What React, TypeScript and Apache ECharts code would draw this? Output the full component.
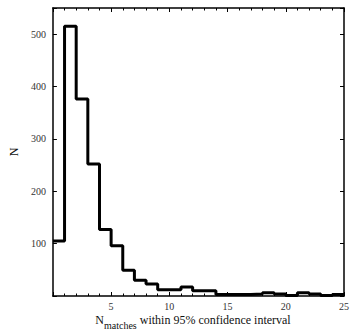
import React, { useEffect, useRef } from "react";
import * as echarts from "echarts";

const binStarts = [0, 1, 2, 3, 4, 5, 6, 7, 8, 9, 10, 11, 12, 13, 14, 15, 16, 17, 18, 19, 20, 21, 22, 23, 24, 25];
const counts = [105, 515, 376, 252, 127, 96, 49, 30, 23, 12, 12, 17, 10, 10, 3, 3, 3, 4, 6, 4, 1, 6, 4, 1, 3, 3];
const xTicks = [5, 10, 15, 20, 25];
const yTicks = [100, 200, 300, 400, 500];

const FONT = "'Liberation Serif', 'DejaVu Serif', serif";

export default function App() {
  const ref = useRef<HTMLDivElement>(null);
  useEffect(() => {
    document.body.style.margin = "0";
    if (!ref.current) return;
    const chart = echarts.init(ref.current, undefined, { renderer: "svg" });
    const axisLine = { show: true, onZero: false, lineStyle: { color: "#000", width: 1.5 } };
    const tick = { show: true, inside: true, length: 4, lineStyle: { color: "#000", width: 1 } };
    const minor = { show: true, splitNumber: 5, length: 2.5, lineStyle: { color: "#000", width: 1 } };
    const labelStyle = { fontFamily: FONT, fontSize: 10, color: "#333" };
    chart.setOption({
      animation: false,
      backgroundColor: "#fff",
      grid: { left: 42, right: 13, top: 8, bottom: 37, containLabel: false },
      xAxis: [
        {
          type: "value",
          position: "bottom",
          min: 0,
          max: 25,
          interval: 5,
          axisLine,
          axisTick: tick,
          minorTick: minor,
          splitLine: { show: false },
          axisLabel: {
            ...labelStyle,
            margin: 5,
            formatter: (v: number) => (xTicks.includes(v) ? String(v) : ""),
          },
        },
        {
          type: "value",
          position: "top",
          min: 0,
          max: 25,
          interval: 5,
          axisLine,
          axisTick: tick,
          minorTick: minor,
          splitLine: { show: false },
          axisLabel: { show: false },
        },
      ],
      yAxis: [
        {
          type: "value",
          position: "left",
          min: 0,
          max: 550,
          interval: 100,
          axisLine,
          axisTick: tick,
          splitLine: { show: false },
          axisLabel: {
            ...labelStyle,
            margin: 7,
            formatter: (v: number) => (yTicks.includes(v) ? String(v) : ""),
          },
          name: "N",
          nameLocation: "middle",
          nameGap: 27,
          nameRotate: 90,
          nameTextStyle: { fontFamily: FONT, fontSize: 12, color: "#111" },
        },
        {
          type: "value",
          position: "right",
          min: 0,
          max: 550,
          interval: 100,
          axisLine,
          axisTick: tick,
          splitLine: { show: false },
          axisLabel: { show: false },
        },
      ],
      graphic: [
        {
          type: "text",
          x: 193,
          y: 311,
          style: {
            text: "{m|N}{s|matches}{m| within 95% confidence interval}",
            textAlign: "center",
            rich: {
              m: { fontFamily: FONT, fontSize: 12, fill: "#111", verticalAlign: "bottom", lineHeight: 15 },
              s: { fontFamily: FONT, fontSize: 10, fill: "#111", verticalAlign: "bottom", lineHeight: 12, padding: [0, 0, -4, 0] },
            },
          },
        },
      ],
      series: [
        {
          type: "line",
          step: "end",
          xAxisIndex: 0,
          yAxisIndex: 0,
          symbol: "none",
          lineStyle: { color: "#000", width: 3 },
          data: binStarts.map((x, i) => [x, counts[i]]),
          clip: true,
        },
      ],
    });
    return () => chart.dispose();
  }, []);
  return <div ref={ref} style={{ width: 357, height: 333 }} />;
}
